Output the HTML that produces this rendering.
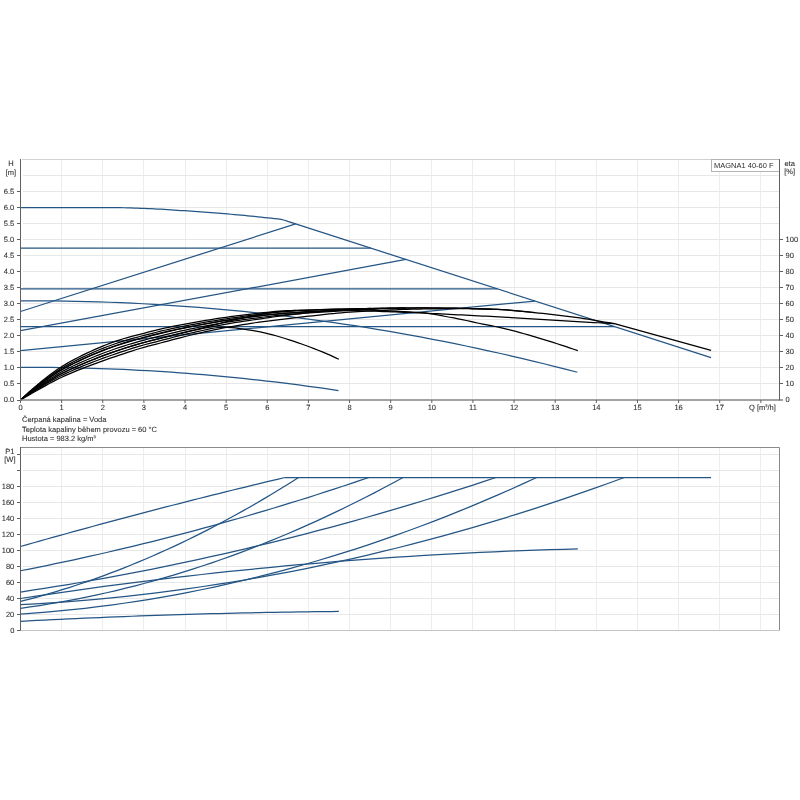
<!DOCTYPE html>
<html><head><meta charset="utf-8"><title>MAGNA1 40-60 F</title>
<style>html,body{margin:0;padding:0;background:#fff;overflow:hidden;}svg{display:block;will-change:transform;}</style>
</head><body>
<svg width="800" height="800" viewBox="0 0 800 800">
<rect width="800" height="800" fill="#fff"/>
<g stroke="#ededed" stroke-width="1" fill="none" shape-rendering="crispEdges">
<line x1="61.63" y1="160" x2="61.63" y2="399"/>
<line x1="102.76" y1="160" x2="102.76" y2="399"/>
<line x1="143.89" y1="160" x2="143.89" y2="399"/>
<line x1="185.02" y1="160" x2="185.02" y2="399"/>
<line x1="226.15" y1="160" x2="226.15" y2="399"/>
<line x1="267.28" y1="160" x2="267.28" y2="399"/>
<line x1="308.41" y1="160" x2="308.41" y2="399"/>
<line x1="349.54" y1="160" x2="349.54" y2="399"/>
<line x1="390.67" y1="160" x2="390.67" y2="399"/>
<line x1="431.8" y1="160" x2="431.8" y2="399"/>
<line x1="472.93" y1="160" x2="472.93" y2="399"/>
<line x1="514.06" y1="160" x2="514.06" y2="399"/>
<line x1="555.19" y1="160" x2="555.19" y2="399"/>
<line x1="596.32" y1="160" x2="596.32" y2="399"/>
<line x1="637.45" y1="160" x2="637.45" y2="399"/>
<line x1="678.58" y1="160" x2="678.58" y2="399"/>
<line x1="719.71" y1="160" x2="719.71" y2="399"/>
<line x1="760.84" y1="160" x2="760.84" y2="399"/>
<line x1="61.63" y1="448" x2="61.63" y2="630"/>
<line x1="102.76" y1="448" x2="102.76" y2="630"/>
<line x1="143.89" y1="448" x2="143.89" y2="630"/>
<line x1="185.02" y1="448" x2="185.02" y2="630"/>
<line x1="226.15" y1="448" x2="226.15" y2="630"/>
<line x1="267.28" y1="448" x2="267.28" y2="630"/>
<line x1="308.41" y1="448" x2="308.41" y2="630"/>
<line x1="349.54" y1="448" x2="349.54" y2="630"/>
<line x1="390.67" y1="448" x2="390.67" y2="630"/>
<line x1="431.8" y1="448" x2="431.8" y2="630"/>
<line x1="472.93" y1="448" x2="472.93" y2="630"/>
<line x1="514.06" y1="448" x2="514.06" y2="630"/>
<line x1="555.19" y1="448" x2="555.19" y2="630"/>
<line x1="596.32" y1="448" x2="596.32" y2="630"/>
<line x1="637.45" y1="448" x2="637.45" y2="630"/>
<line x1="678.58" y1="448" x2="678.58" y2="630"/>
<line x1="719.71" y1="448" x2="719.71" y2="630"/>
<line x1="760.84" y1="448" x2="760.84" y2="630"/>
</g>
<g stroke="#e7e7e7" stroke-width="1" fill="none" shape-rendering="crispEdges">
<line x1="23" y1="383.96" x2="779.0" y2="383.96"/>
<line x1="23" y1="367.93" x2="779.0" y2="367.93"/>
<line x1="23" y1="351.89" x2="779.0" y2="351.89"/>
<line x1="23" y1="335.86" x2="779.0" y2="335.86"/>
<line x1="23" y1="319.82" x2="779.0" y2="319.82"/>
<line x1="23" y1="303.79" x2="779.0" y2="303.79"/>
<line x1="23" y1="287.75" x2="779.0" y2="287.75"/>
<line x1="23" y1="271.72" x2="779.0" y2="271.72"/>
<line x1="23" y1="255.69" x2="779.0" y2="255.69"/>
<line x1="23" y1="239.65" x2="779.0" y2="239.65"/>
<line x1="23" y1="223.62" x2="779.0" y2="223.62"/>
<line x1="23" y1="207.58" x2="779.0" y2="207.58"/>
<line x1="23" y1="191.54" x2="779.0" y2="191.54"/>
<line x1="23" y1="175.51" x2="779.0" y2="175.51"/>
<line x1="23" y1="614.5" x2="779.0" y2="614.5"/>
<line x1="23" y1="598.5" x2="779.0" y2="598.5"/>
<line x1="23" y1="582.5" x2="779.0" y2="582.5"/>
<line x1="23" y1="566.5" x2="779.0" y2="566.5"/>
<line x1="23" y1="550.5" x2="779.0" y2="550.5"/>
<line x1="23" y1="534.5" x2="779.0" y2="534.5"/>
<line x1="23" y1="518.5" x2="779.0" y2="518.5"/>
<line x1="23" y1="502.5" x2="779.0" y2="502.5"/>
<line x1="23" y1="486.5" x2="779.0" y2="486.5"/>
<line x1="23" y1="470.5" x2="779.0" y2="470.5"/>
<line x1="23" y1="454.5" x2="779.0" y2="454.5"/>
</g>
<line x1="22" y1="159.5" x2="779.5" y2="159.5" stroke="#d2d2d2" stroke-width="1"/>
<line x1="20" y1="447.5" x2="779.5" y2="447.5" stroke="#8a8a8a" stroke-width="1"/>
<line x1="779.5" y1="447.5" x2="779.5" y2="630.5" stroke="#8a8a8a" stroke-width="1"/>
<line x1="20" y1="630.5" x2="779.5" y2="630.5" stroke="#c4c4c4" stroke-width="1"/>
<path d="M20.5 207.58 L23.84 207.58 L27.18 207.58 L30.53 207.58 L33.87 207.58 L37.21 207.58 L40.55 207.58 L43.89 207.58 L47.23 207.58 L50.58 207.58 L53.92 207.58 L57.26 207.58 L60.6 207.58 L63.94 207.58 L67.29 207.58 L70.63 207.58 L73.97 207.58 L77.31 207.58 L80.65 207.58 L83.99 207.58 L87.34 207.58 L90.68 207.58 L94.02 207.58 L97.36 207.58 L100.7 207.58 L104.05 207.58 L107.39 207.59 L110.73 207.61 L114.07 207.63 L117.41 207.66 L120.75 207.69 L124.1 207.75 L127.44 207.82 L130.78 207.92 L134.12 208.03 L137.46 208.14 L140.81 208.27 L144.15 208.39 L147.49 208.53 L150.83 208.68 L154.17 208.85 L157.51 209.03 L160.86 209.22 L164.2 209.42 L167.54 209.63 L170.88 209.85 L174.22 210.07 L177.57 210.29 L180.91 210.52 L184.25 210.74 L187.59 210.96 L190.93 211.18 L194.27 211.41 L197.62 211.64 L200.96 211.88 L204.3 212.12 L207.64 212.37 L210.98 212.62 L214.33 212.88 L217.67 213.14 L221.01 213.41 L224.35 213.68 L227.69 213.96 L231.03 214.25 L234.38 214.55 L237.72 214.85 L241.06 215.16 L244.4 215.48 L247.74 215.8 L251.09 216.14 L254.43 216.47 L257.77 216.82 L261.11 217.17 L264.45 217.53 L267.79 217.9 L271.14 218.24 L274.48 218.58 L277.82 218.97 L281.16 219.46 L284.5 220.24 L287.85 221.42 L711.07 357.71" fill="none" stroke="#245584" stroke-width="1.25" stroke-linejoin="round" />
<path d="M20.5 248.15 L370.85 248.15" fill="none" stroke="#245584" stroke-width="1.25" stroke-linejoin="round" />
<path d="M20.5 288.88 L497.33 288.88" fill="none" stroke="#245584" stroke-width="1.25" stroke-linejoin="round" />
<path d="M20.5 326.66 L614.64 326.66" fill="none" stroke="#245584" stroke-width="1.25" stroke-linejoin="round" />
<path d="M20.5 311.49 L295.66 223.94" fill="none" stroke="#245584" stroke-width="1.25" stroke-linejoin="round" />
<path d="M20.5 330.73 L405.89 259.43" fill="none" stroke="#245584" stroke-width="1.25" stroke-linejoin="round" />
<path d="M20.5 350.61 L535.04 301.02" fill="none" stroke="#245584" stroke-width="1.25" stroke-linejoin="round" />
<path d="M20.5 300.9 L31.64 300.86 L42.78 300.88 L53.91 300.96 L65.05 301.1 L76.19 301.3 L87.33 301.56 L98.47 301.87 L109.6 302.25 L120.74 302.69 L131.88 303.19 L143.02 303.75 L154.16 304.36 L165.29 305.04 L176.43 305.78 L187.57 306.58 L198.71 307.43 L209.85 308.35 L220.98 309.33 L232.12 310.37 L243.26 311.46 L254.4 312.62 L265.54 313.84 L276.67 315.12 L287.81 316.45 L298.95 317.85 L310.09 319.31 L321.23 320.82 L332.36 322.4 L343.5 324.04 L354.64 325.73 L365.78 327.49 L376.92 329.31 L388.05 331.18 L399.19 333.12 L410.33 335.11 L421.47 337.17 L432.61 339.29 L443.74 341.46 L454.88 343.7 L466.02 345.99 L477.16 348.35 L488.3 350.77 L499.43 353.24 L510.57 355.78 L521.71 358.37 L532.85 361.03 L543.99 363.74 L555.12 366.52 L566.26 369.35 L577.4 372.25" fill="none" stroke="#245584" stroke-width="1.25" stroke-linejoin="round" />
<path d="M20.5 367.29 L28.45 367.27 L36.4 367.29 L44.35 367.34 L52.29 367.42 L60.24 367.52 L68.19 367.66 L76.14 367.83 L84.09 368.03 L92.04 368.26 L99.98 368.52 L107.93 368.81 L115.88 369.14 L123.83 369.49 L131.78 369.87 L139.73 370.28 L147.67 370.73 L155.62 371.2 L163.57 371.71 L171.52 372.24 L179.47 372.81 L187.42 373.41 L195.36 374.03 L203.31 374.69 L211.26 375.38 L219.21 376.1 L227.16 376.85 L235.11 377.63 L243.05 378.44 L251 379.28 L258.95 380.15 L266.9 381.05 L274.85 381.98 L282.8 382.94 L290.74 383.94 L298.69 384.96 L306.64 386.01 L314.59 387.1 L322.54 388.21 L330.49 389.36 L338.43 390.54" fill="none" stroke="#245584" stroke-width="1.25" stroke-linejoin="round" />
<path d="M20.5 400 L24.61 396.08 L28.73 392.29 L32.84 388.63 L36.95 385.1 L41.06 381.72 L45.18 378.45 L49.29 375.27 L53.4 372.22 L57.52 369.33 L61.63 366.65 L65.74 364.16 L69.86 361.82 L73.97 359.6 L78.08 357.48 L82.2 355.42 L86.31 353.42 L90.42 351.47 L94.53 349.6 L98.65 347.82 L102.76 346.12 L106.87 344.5 L110.99 342.94 L115.1 341.45 L119.21 340.05 L123.33 338.75 L127.44 337.56 L131.55 336.46 L135.66 335.41 L139.78 334.36 L143.89 333.29 L148 332.22 L152.12 331.16 L156.23 330.12 L160.34 329.12 L164.46 328.16 L168.57 327.27 L172.68 326.41 L176.79 325.59 L180.91 324.8 L185.02 324.03 L189.13 323.29 L193.25 322.56 L197.36 321.85 L201.47 321.15 L205.59 320.47 L209.7 319.79 L213.81 319.12 L217.92 318.47 L222.04 317.85 L226.15 317.26 L230.26 316.69 L234.38 316.14 L238.49 315.61 L242.6 315.09 L246.72 314.59 L250.83 314.1 L254.94 313.63 L259.05 313.18 L263.17 312.73 L267.28 312.29 L271.39 311.86 L275.51 311.49 L279.62 311.19 L283.73 310.96 L287.85 310.74 L291.96 310.55 L296.07 310.37 L300.18 310.21 L304.3 310.06 L308.41 309.92 L312.52 309.78 L316.64 309.66 L320.75 309.54 L324.86 309.43 L328.98 309.33 L333.09 309.24 L337.2 309.15 L341.31 309.05 L345.43 308.96 L349.54 308.86 L353.65 308.77 L357.77 308.68 L361.88 308.59 L365.99 308.5 L370.11 308.42 L374.22 308.35 L378.33 308.28 L382.44 308.22 L386.56 308.15 L390.67 308.08 L394.78 308.02 L398.9 307.96 L403.01 307.91 L407.12 307.86 L411.24 307.83 L415.35 307.81 L419.46 307.8 L423.57 307.81 L427.69 307.83 L431.8 307.86 L435.91 307.9 L440.03 307.95 L444.14 308.01 L448.25 308.07 L452.37 308.14 L456.48 308.21 L460.59 308.28 L464.7 308.36 L468.82 308.45 L472.93 308.55 L477.04 308.67 L481.16 308.79 L485.27 308.94 L489.38 309.09 L493.5 309.26 L497.61 309.45 L501.72 309.65 L505.83 309.92 L509.95 310.24 L514.06 310.6 L518.17 310.98 L522.29 311.35 L526.4 311.74 L530.51 312.15 L534.62 312.57 L538.74 313.01 L542.85 313.46 L546.96 313.92 L551.08 314.39 L555.19 314.86 L559.3 315.34 L563.42 315.81 L567.53 316.3 L571.64 316.8 L575.75 317.33 L579.87 317.9 L583.98 318.53 L588.09 319.21 L592.21 319.92 L596.32 320.64 L600.43 321.34 L604.55 322.02 L608.66 322.71 L612.77 323.4 L614.42 323.67 L711.07 350.29" fill="none" stroke="#000" stroke-width="1.25" stroke-linejoin="round" />
<path d="M20.5 400 L24.62 396.3 L28.74 392.72 L32.85 389.26 L36.97 385.92 L41.09 382.7 L45.21 379.55 L49.32 376.52 L53.44 373.63 L57.56 370.86 L61.68 368.26 L65.8 365.86 L69.91 363.62 L74.03 361.46 L78.15 359.41 L82.27 357.43 L86.39 355.48 L90.5 353.59 L94.62 351.78 L98.74 350.04 L102.86 348.37 L106.97 346.77 L111.09 345.23 L115.21 343.76 L119.33 342.36 L123.45 341.05 L127.56 339.84 L131.68 338.7 L135.8 337.58 L139.92 336.5 L144.04 335.43 L148.15 334.35 L152.27 333.28 L156.39 332.25 L160.51 331.23 L164.62 330.26 L168.74 329.33 L172.86 328.44 L176.98 327.57 L181.1 326.74 L185.21 325.93 L189.33 325.14 L193.45 324.38 L197.57 323.62 L201.68 322.89 L205.8 322.17 L209.92 321.46 L214.04 320.76 L218.16 320.09 L222.27 319.44 L226.39 318.81 L230.51 318.21 L234.63 317.62 L238.75 317.04 L242.86 316.48 L246.98 315.93 L251.1 315.39 L255.22 314.85 L259.33 314.31 L263.45 313.78 L267.57 313.28 L271.69 312.83 L275.81 312.45 L279.92 312.09 L284.04 311.77 L288.16 311.47 L292.28 311.19 L296.4 310.94 L300.51 310.7 L304.63 310.49 L308.75 310.28 L312.87 310.09 L316.98 309.91 L321.1 309.75 L325.22 309.6 L329.34 309.47 L333.46 309.34 L337.57 309.22 L341.69 309.11 L345.81 309 L349.93 308.89 L354.04 308.79 L358.16 308.69 L362.28 308.6 L366.4 308.51 L370.52 308.41" fill="none" stroke="#000" stroke-width="1.25" stroke-linejoin="round" />
<path d="M20.5 400 L24.64 396.48 L28.78 393.06 L32.92 389.76 L37.07 386.57 L41.21 383.47 L45.35 380.45 L49.49 377.53 L53.63 374.74 L57.77 372.06 L61.92 369.55 L66.06 367.24 L70.2 365.06 L74.34 362.97 L78.48 360.97 L82.62 359.04 L86.77 357.14 L90.91 355.3 L95.05 353.53 L99.19 351.82 L103.33 350.18 L107.47 348.59 L111.62 347.07 L115.76 345.62 L119.9 344.22 L124.04 342.9 L128.18 341.66 L132.32 340.49 L136.47 339.34 L140.61 338.23 L144.75 337.13 L148.89 336.04 L153.03 334.97 L157.17 333.93 L161.31 332.91 L165.46 331.93 L169.6 330.97 L173.74 330.04 L177.88 329.14 L182.02 328.27 L186.16 327.43 L190.31 326.6 L194.45 325.8 L198.59 325.01 L202.73 324.24 L206.87 323.49 L211.01 322.75 L215.16 322.02 L219.3 321.33 L223.44 320.66 L227.58 320.02 L231.72 319.4 L235.86 318.81 L240.01 318.23 L244.15 317.67 L248.29 317.12 L252.43 316.6 L256.57 316.09 L260.71 315.58 L264.86 315.09 L269 314.67 L273.14 314.28 L277.28 313.9 L281.42 313.54 L285.56 313.2 L289.7 312.87 L293.85 312.56 L297.99 312.26 L302.13 311.99 L306.27 311.72 L310.41 311.47 L314.55 311.23 L318.7 311 L322.84 310.78 L326.98 310.57 L331.12 310.37 L335.26 310.18 L339.4 310 L343.55 309.83 L347.69 309.68 L351.83 309.52 L355.97 309.38 L360.11 309.24 L364.25 309.11 L368.4 308.98 L372.54 308.87 L376.68 308.76 L380.82 308.66 L384.96 308.57 L389.1 308.47 L393.25 308.37 L397.39 308.28 L401.53 308.19 L405.67 308.12 L409.81 308.05 L413.95 308.01 L418.09 307.98 L422.24 307.98 L426.38 307.99 L430.52 308.01 L434.66 308.03 L438.8 308.06 L442.94 308.1 L447.09 308.15 L451.23 308.19 L455.37 308.24 L459.51 308.29 L463.65 308.37 L467.79 308.46 L471.94 308.58 L476.08 308.71 L480.22 308.85 L484.36 309 L488.5 309.14 L492.64 309.28 L496.79 309.41" fill="none" stroke="#000" stroke-width="1.25" stroke-linejoin="round" />
<path d="M20.5 400 L24.63 396.52 L28.76 393.14 L32.88 389.88 L37.01 386.72 L41.14 383.65 L45.27 380.66 L49.4 377.76 L53.53 374.99 L57.65 372.33 L61.78 369.84 L65.91 367.54 L70.04 365.38 L74.17 363.3 L78.3 361.32 L82.42 359.39 L86.55 357.51 L90.68 355.67 L94.81 353.91 L98.94 352.21 L103.06 350.58 L107.19 349 L111.32 347.48 L115.45 346.02 L119.58 344.63 L123.71 343.3 L127.83 342.06 L131.96 340.88 L136.09 339.73 L140.22 338.62 L144.35 337.52 L148.48 336.43 L152.6 335.36 L156.73 334.32 L160.86 333.3 L164.99 332.31 L169.12 331.35 L173.24 330.41 L177.37 329.51 L181.5 328.64 L185.63 327.79 L189.76 326.95 L193.89 326.14 L198.01 325.35 L202.14 324.58 L206.27 323.82 L210.4 323.07 L214.53 322.35 L218.66 321.65 L222.78 320.97 L226.91 320.32 L231.04 319.7 L235.17 319.11 L239.3 318.52 L243.42 317.95 L247.55 317.4 L251.68 316.87 L255.81 316.36 L259.94 315.86 L264.07 315.37 L268.19 314.91 L272.32 314.47 L276.45 314.06 L280.58 313.71 L284.71 313.39 L288.84 313.1 L292.96 312.82 L297.09 312.55 L301.22 312.29 L305.35 312.05 L309.48 311.81 L313.6 311.59 L317.73 311.37 L321.86 311.15 L325.99 310.94 L330.12 310.75 L334.25 310.56 L338.37 310.39 L342.5 310.23 L346.63 310.09 L350.76 309.95 L354.89 309.81 L359.02 309.68 L363.14 309.53 L367.27 309.48 L371.4 309.63 L375.53 309.91 L379.66 310.27 L383.78 310.65 L387.91 310.99 L392.04 311.24 L396.17 311.42 L400.3 311.58 L404.43 311.72 L408.55 311.87 L412.68 312.04 L416.81 312.26 L420.94 312.53 L425.07 312.95 L429.2 313.51 L433.32 314.18 L437.45 314.93 L441.58 315.71 L445.71 316.5 L449.84 317.25 L453.96 317.99 L458.09 318.77 L462.22 319.6 L466.35 320.5 L470.48 321.42 L474.61 322.36 L478.73 323.26 L482.86 324.11 L486.99 324.91 L491.12 325.7 L495.25 326.51 L499.38 327.37 L503.5 328.3 L507.63 329.3 L511.76 330.34 L515.89 331.43 L520.02 332.56 L524.14 333.74 L528.27 334.94 L532.4 336.16 L536.53 337.39 L540.66 338.62 L544.79 339.87 L548.91 341.14 L553.04 342.43 L557.17 343.74 L561.3 345.08 L565.43 346.46 L569.56 347.84 L573.68 349.23 L577.81 350.61" fill="none" stroke="#000" stroke-width="1.25" stroke-linejoin="round" />
<path d="M20.5 400 L24.62 396.79 L28.75 393.66 L32.87 390.63 L37 387.69 L41.12 384.82 L45.25 382.01 L49.37 379.28 L53.5 376.66 L57.62 374.14 L61.74 371.77 L65.87 369.58 L69.99 367.52 L74.12 365.53 L78.24 363.64 L82.37 361.79 L86.49 359.98 L90.62 358.21 L94.74 356.51 L98.86 354.86 L102.99 353.26 L107.11 351.72 L111.24 350.22 L115.36 348.78 L119.49 347.38 L123.61 346.04 L127.74 344.76 L131.86 343.53 L135.98 342.34 L140.11 341.19 L144.23 340.07 L148.36 338.98 L152.48 337.91 L156.61 336.86 L160.73 335.84 L164.85 334.82 L168.98 333.82 L173.1 332.84 L177.23 331.89 L181.35 330.96 L185.48 330.06 L189.6 329.18 L193.73 328.32 L197.85 327.49 L201.97 326.67 L206.1 325.87 L210.22 325.08 L214.35 324.32 L218.47 323.59 L222.6 322.88 L226.72 322.2 L230.85 321.54 L234.97 320.92 L239.09 320.3 L243.22 319.71 L247.34 319.13 L251.47 318.57 L255.59 318.03 L259.72 317.51 L263.84 317 L267.97 316.51 L272.09 316.05 L276.21 315.61 L280.34 315.22 L284.46 314.86 L288.59 314.52 L292.71 314.18 L296.84 313.86 L300.96 313.55 L305.09 313.25 L309.21 312.96 L313.33 312.67 L317.46 312.4 L321.58 312.12 L325.71 311.85 L329.83 311.6 L333.96 311.36 L338.08 311.14 L342.21 310.92 L346.33 310.71 L350.45 310.64 L354.58 310.67 L358.7 310.74 L362.83 310.83 L366.95 310.95 L371.08 311.09 L375.2 311.24 L379.32 311.39 L383.45 311.55 L387.57 311.7 L391.7 311.84 L395.82 311.98 L399.95 312.13 L404.07 312.29 L408.2 312.45 L412.32 312.61 L416.44 312.78 L420.57 312.96 L424.69 313.14 L428.82 313.33 L432.94 313.53 L437.07 313.73 L441.19 313.94 L445.32 314.15 L449.44 314.35 L453.56 314.55 L457.69 314.76 L461.81 314.97 L465.94 315.17 L470.06 315.38 L474.19 315.59 L478.31 315.8 L482.44 316.01 L486.56 316.22 L490.68 316.44 L494.81 316.66 L498.93 316.88 L503.06 317.1 L507.18 317.32 L511.31 317.55 L515.43 317.79 L519.56 318.02 L523.68 318.26 L527.8 318.51 L531.93 318.76 L536.05 319.01 L540.18 319.26 L544.3 319.52 L548.43 319.77 L552.55 320.03 L556.68 320.29 L560.8 320.54 L564.92 320.79 L569.05 321.04 L573.17 321.29 L577.3 321.53 L581.42 321.78 L585.55 322.03 L589.67 322.27 L593.8 322.51 L597.92 322.75 L602.04 322.99 L606.17 323.22 L610.29 323.44 L614.42 323.67" fill="none" stroke="#000" stroke-width="1.25" stroke-linejoin="round" />
<path d="M20.5 400 L24.67 397 L28.84 394.07 L33.01 391.23 L37.18 388.45 L41.35 385.74 L45.51 383.07 L49.68 380.46 L53.85 377.96 L58.02 375.55 L62.19 373.29 L66.36 371.19 L70.53 369.21 L74.7 367.3 L78.87 365.47 L83.04 363.68 L87.21 361.92 L91.37 360.21 L95.54 358.55 L99.71 356.93 L103.88 355.37 L108.05 353.84 L112.22 352.36 L116.39 350.92 L120.56 349.52 L124.73 348.17 L128.9 346.85 L133.07 345.57 L137.23 344.35 L141.4 343.16 L145.57 342.02 L149.74 340.93 L153.91 339.85 L158.08 338.79 L162.25 337.75 L166.42 336.7 L170.59 335.65 L174.76 334.63 L178.93 333.65 L183.09 332.68 L187.26 331.69 L191.43 330.68 L195.6 329.66 L199.77 328.62 L203.94 327.58 L208.11 326.5 L212.28 325.41 L216.45 324.33 L220.62 323.26 L224.79 322.23 L228.95 321.2 L233.12 320.2 L237.29 319.23 L241.46 318.3 L245.63 317.39 L249.8 316.5 L253.97 315.65 L258.14 314.86 L262.31 314.09 L266.48 313.34 L270.65 312.64 L274.81 312.04 L278.98 311.6 L283.15 311.25 L287.32 310.95 L291.49 310.68 L295.66 310.39" fill="none" stroke="#000" stroke-width="1.25" stroke-linejoin="round" />
<path d="M20.5 400 L24.64 397.03 L28.79 394.14 L32.93 391.32 L37.08 388.57 L41.22 385.89 L45.36 383.24 L49.51 380.65 L53.65 378.17 L57.8 375.78 L61.94 373.52 L66.08 371.44 L70.23 369.47 L74.37 367.57 L78.52 365.75 L82.66 363.97 L86.8 362.22 L90.95 360.52 L95.09 358.87 L99.24 357.26 L103.38 355.7 L107.52 354.18 L111.67 352.71 L115.81 351.27 L119.95 349.87 L124.1 348.52 L128.24 347.2 L132.39 345.92 L136.53 344.69 L140.67 343.51 L144.82 342.36 L148.96 341.27 L153.11 340.2 L157.25 339.14 L161.39 338.1 L165.54 337.06 L169.68 336.02 L173.83 334.99 L177.97 333.99 L182.11 333.02 L186.26 332.07 L190.4 331.14 L194.55 330.24 L198.69 329.35 L202.83 328.49 L206.98 327.65 L211.12 326.83 L215.27 326.03 L219.41 325.27 L223.55 324.53 L227.7 323.82 L231.84 323.14 L235.99 322.49 L240.13 321.85 L244.27 321.23 L248.42 320.62 L252.56 320 L256.71 319.38 L260.85 318.77 L264.99 318.16 L269.14 317.57 L273.28 317 L277.43 316.44 L281.57 315.89 L285.71 315.35 L289.86 314.83 L294 314.32 L298.15 313.84 L302.29 313.38 L306.43 312.93 L310.58 312.49 L314.72 312.07 L318.86 311.67 L323.01 311.3 L327.15 310.98 L331.3 310.67 L335.44 310.39 L339.58 310.12 L343.73 309.87 L347.87 309.64 L352.02 309.43 L356.16 309.24 L360.3 309.06 L364.45 308.89 L368.59 308.74 L372.74 308.6 L376.88 308.47 L381.02 308.36 L385.17 308.27 L389.31 308.18 L393.46 308.11 L397.6 308.03 L401.74 307.96 L405.89 307.88" fill="none" stroke="#000" stroke-width="1.25" stroke-linejoin="round" />
<path d="M20.5 400 L24.62 397.55 L28.73 395.13 L32.85 392.76 L36.97 390.43 L41.08 388.12 L45.2 385.83 L49.31 383.56 L53.43 381.37 L57.55 379.23 L61.66 377.21 L65.78 375.34 L69.9 373.56 L74.01 371.84 L78.13 370.18 L82.24 368.55 L86.36 366.95 L90.48 365.38 L94.59 363.84 L98.71 362.33 L102.83 360.85 L106.94 359.4 L111.06 357.96 L115.17 356.55 L119.29 355.17 L123.41 353.79 L127.52 352.41 L131.64 351.04 L135.76 349.73 L139.87 348.48 L143.99 347.29 L148.11 346.18 L152.22 345.11 L156.34 344.04 L160.45 342.99 L164.57 341.92 L168.69 340.81 L172.8 339.7 L176.92 338.61 L181.04 337.55 L185.15 336.51 L189.27 335.49 L193.38 334.49 L197.5 333.52 L201.62 332.58 L205.73 331.66 L209.85 330.77 L213.97 329.9 L218.08 329.07 L222.2 328.26 L226.31 327.49 L230.43 326.75 L234.55 326.04 L238.66 325.34 L242.78 324.66 L246.9 324.01 L251.01 323.37 L255.13 322.75 L259.24 322.16 L263.36 321.59 L267.48 321.05 L271.59 320.53 L275.71 320.03 L279.83 319.53 L283.94 319.03 L288.06 318.55 L292.18 318.07 L296.29 317.59 L300.41 317.12 L304.52 316.66 L308.64 316.21 L312.76 315.76 L316.87 315.31 L320.99 314.85 L325.11 314.4 L329.22 313.96 L333.34 313.54 L337.45 313.14 L341.57 312.78 L345.69 312.45 L349.8 312.16 L353.92 311.88 L358.04 311.61 L362.15 311.36 L366.27 311.13 L370.38 310.91 L374.5 310.7 L378.62 310.5 L382.73 310.32 L386.85 310.14 L390.97 309.97 L395.08 309.79 L399.2 309.63 L403.32 309.47 L407.43 309.33 L411.55 309.2 L415.66 309.1 L419.78 309.02 L423.9 308.96 L428.01 308.91 L432.13 308.86 L436.25 308.82 L440.36 308.78 L444.48 308.74 L448.59 308.72 L452.71 308.7 L456.83 308.69 L460.94 308.69 L465.06 308.71 L469.18 308.75 L473.29 308.81 L477.41 308.9 L481.52 308.99 L485.64 309.1 L489.76 309.22 L493.87 309.35 L497.99 309.49 L502.11 309.68 L506.22 309.95 L510.34 310.27 L514.45 310.64 L518.57 311.04 L522.69 311.45 L526.8 311.86 L530.92 312.25 L535.04 312.62" fill="none" stroke="#000" stroke-width="1.25" stroke-linejoin="round" />
<path d="M20.5 400 L24.63 397.28 L28.77 394.62 L32.9 392.02 L37.04 389.48 L41.17 386.98 L45.31 384.5 L49.44 382.07 L53.57 379.73 L57.71 377.46 L61.84 375.32 L65.98 373.34 L70.11 371.47 L74.25 369.65 L78.38 367.91 L82.52 366.2 L86.65 364.53 L90.78 362.89 L94.92 361.29 L99.05 359.73 L103.19 358.21 L107.32 356.72 L111.46 355.27 L115.59 353.84 L119.72 352.45 L123.86 351.08 L127.99 349.73 L132.13 348.4 L136.26 347.14 L140.4 345.92 L144.53 344.75 L148.67 343.65 L152.8 342.58 L156.93 341.52 L161.07 340.47 L165.2 339.42 L169.34 338.34 L173.47 337.26 L177.61 336.22 L181.74 335.21 L185.87 334.21 L190.01 333.24 L194.14 332.29 L198.28 331.38 L202.41 330.5 L206.55 329.59 L210.68 328.73 L214.82 328 L218.95 327.47 L223.08 327.21 L227.22 327.27 L231.35 327.54 L235.49 327.97 L239.62 328.52 L243.76 329.14 L247.89 329.77 L252.02 330.4 L256.16 331.14 L260.29 331.98 L264.43 332.9 L268.56 333.87 L272.7 334.89 L276.83 336.02 L280.97 337.24 L285.1 338.51 L289.23 339.82 L293.37 341.15 L297.5 342.55 L301.64 344 L305.77 345.49 L309.91 347.03 L314.04 348.61 L318.17 350.24 L322.31 351.92 L326.44 353.66 L330.58 355.44 L334.71 357.34 L338.85 359.27" fill="none" stroke="#000" stroke-width="1.25" stroke-linejoin="round" />
<path d="M20.5 546.5 L27.11 544.62 L33.72 542.74 L40.33 540.88 L46.95 539.02 L53.56 537.17 L60.17 535.32 L66.78 533.49 L73.39 531.66 L80 529.84 L86.62 528.03 L93.23 526.23 L99.84 524.44 L106.45 522.65 L113.06 520.88 L119.67 519.11 L126.29 517.34 L132.9 515.59 L139.51 513.85 L146.12 512.11 L152.73 510.38 L159.34 508.66 L165.96 506.95 L172.57 505.24 L179.18 503.54 L185.79 501.86 L192.4 500.18 L199.01 498.5 L205.63 496.84 L212.24 495.18 L218.85 493.53 L225.46 491.89 L232.07 490.26 L238.68 488.64 L245.3 487.02 L251.91 485.42 L258.52 483.82 L265.13 482.23 L271.74 480.64 L278.35 479.07 L284.97 477.5" fill="none" stroke="#245584" stroke-width="1.25" stroke-linejoin="round" />
<path d="M20.5 570.74 L29.21 569.04 L37.92 567.3 L46.63 565.53 L55.34 563.73 L64.05 561.9 L72.76 560.03 L81.46 558.14 L90.17 556.21 L98.88 554.24 L107.59 552.25 L116.3 550.23 L125.01 548.17 L133.72 546.08 L142.43 543.96 L151.14 541.8 L159.85 539.61 L168.56 537.4 L177.27 535.15 L185.98 532.86 L194.69 530.55 L203.39 528.2 L212.1 525.82 L220.81 523.41 L229.52 520.97 L238.23 518.49 L246.94 515.98 L255.65 513.44 L264.36 510.87 L273.07 508.27 L281.78 505.63 L290.49 502.96 L299.2 500.26 L307.91 497.53 L316.62 494.76 L325.32 491.97 L334.03 489.14 L342.74 486.28 L351.45 483.38 L360.16 480.46 L368.87 477.5" fill="none" stroke="#245584" stroke-width="1.25" stroke-linejoin="round" />
<path d="M20.5 601.46 L27.45 599.67 L34.4 597.81 L41.35 595.89 L48.3 593.9 L55.25 591.84 L62.21 589.72 L69.16 587.53 L76.11 585.27 L83.06 582.94 L90.01 580.55 L96.96 578.09 L103.91 575.56 L110.86 572.96 L117.81 570.3 L124.76 567.57 L131.72 564.77 L138.67 561.91 L145.62 558.98 L152.57 555.98 L159.52 552.92 L166.47 549.78 L173.42 546.58 L180.37 543.32 L187.32 539.98 L194.27 536.58 L201.23 533.11 L208.18 529.58 L215.13 525.97 L222.08 522.3 L229.03 518.57 L235.98 514.76 L242.93 510.89 L249.88 506.95 L256.83 502.95 L263.78 498.87 L270.73 494.73 L277.69 490.53 L284.64 486.25 L291.59 481.91 L298.54 477.5" fill="none" stroke="#245584" stroke-width="1.25" stroke-linejoin="round" />
<path d="M20.5 592.02 L32.39 590.23 L44.27 588.38 L56.16 586.47 L68.05 584.51 L79.93 582.5 L91.82 580.43 L103.71 578.31 L115.59 576.13 L127.48 573.9 L139.37 571.61 L151.25 569.27 L163.14 566.87 L175.03 564.42 L186.91 561.91 L198.8 559.35 L210.69 556.73 L222.57 554.06 L234.46 551.33 L246.34 548.55 L258.23 545.72 L270.12 542.83 L282 539.88 L293.89 536.88 L305.78 533.83 L317.66 530.72 L329.55 527.55 L341.44 524.33 L353.32 521.06 L365.21 517.73 L377.1 514.35 L388.98 510.91 L400.87 507.42 L412.76 503.87 L424.64 500.27 L436.53 496.61 L448.42 492.9 L460.3 489.13 L472.19 485.31 L484.08 481.43 L495.96 477.5" fill="none" stroke="#245584" stroke-width="1.25" stroke-linejoin="round" />
<path d="M20.5 608.26 L30.06 606.93 L39.63 605.51 L49.19 603.98 L58.75 602.36 L68.31 600.63 L77.88 598.81 L87.44 596.89 L97 594.86 L106.56 592.74 L116.13 590.52 L125.69 588.19 L135.25 585.77 L144.82 583.25 L154.38 580.63 L163.94 577.91 L173.5 575.09 L183.07 572.17 L192.63 569.15 L202.19 566.03 L211.75 562.81 L221.32 559.49 L230.88 556.07 L240.44 552.55 L250.01 548.93 L259.57 545.22 L269.13 541.4 L278.69 537.48 L288.26 533.47 L297.82 529.35 L307.38 525.14 L316.94 520.82 L326.51 516.41 L336.07 511.89 L345.63 507.28 L355.2 502.56 L364.76 497.75 L374.32 492.84 L383.88 487.82 L393.45 482.71 L403.01 477.5" fill="none" stroke="#245584" stroke-width="1.25" stroke-linejoin="round" />
<path d="M20.5 598.5 L34.43 596.38 L48.37 594.31 L62.3 592.29 L76.23 590.31 L90.16 588.37 L104.1 586.48 L118.03 584.63 L131.96 582.83 L145.9 581.08 L159.83 579.37 L173.76 577.7 L187.69 576.08 L201.63 574.5 L215.56 572.97 L229.49 571.49 L243.42 570.05 L257.36 568.65 L271.29 567.3 L285.22 565.99 L299.16 564.73 L313.09 563.52 L327.02 562.35 L340.95 561.22 L354.89 560.14 L368.82 559.1 L382.75 558.11 L396.69 557.17 L410.62 556.26 L424.55 555.41 L438.48 554.6 L452.42 553.83 L466.35 553.11 L480.28 552.43 L494.21 551.8 L508.15 551.22 L522.08 550.67 L536.01 550.18 L549.95 549.73 L563.88 549.32 L577.81 548.96" fill="none" stroke="#245584" stroke-width="1.25" stroke-linejoin="round" />
<path d="M20.5 604.74 L35.59 603.9 L50.69 602.94 L65.78 601.86 L80.88 600.67 L95.97 599.35 L111.07 597.91 L126.16 596.35 L141.26 594.67 L156.35 592.87 L171.45 590.95 L186.54 588.91 L201.64 586.75 L216.73 584.47 L231.83 582.07 L246.92 579.55 L262.02 576.91 L277.11 574.15 L292.2 571.27 L307.3 568.27 L322.39 565.15 L337.49 561.91 L352.58 558.55 L367.68 555.06 L382.77 551.46 L397.87 547.74 L412.96 543.9 L428.06 539.94 L443.15 535.86 L458.25 531.65 L473.34 527.33 L488.44 522.89 L503.53 518.33 L518.63 513.64 L533.72 508.84 L548.81 503.92 L563.91 498.87 L579 493.71 L594.1 488.43 L609.19 483.02 L624.29 477.5" fill="none" stroke="#245584" stroke-width="1.25" stroke-linejoin="round" />
<path d="M20.5 614.02 L33.4 613.13 L46.31 612.1 L59.21 610.95 L72.12 609.67 L85.02 608.26 L97.93 606.72 L110.83 605.05 L123.74 603.25 L136.64 601.32 L149.55 599.26 L162.45 597.08 L175.35 594.76 L188.26 592.32 L201.16 589.74 L214.07 587.04 L226.97 584.21 L239.88 581.25 L252.78 578.16 L265.69 574.94 L278.59 571.59 L291.5 568.11 L304.4 564.51 L317.3 560.77 L330.21 556.91 L343.11 552.91 L356.02 548.79 L368.92 544.54 L381.83 540.15 L394.73 535.64 L407.64 531 L420.54 526.23 L433.45 521.34 L446.35 516.31 L459.25 511.15 L472.16 505.87 L485.06 500.45 L497.97 494.91 L510.87 489.23 L523.78 483.43 L536.68 477.5" fill="none" stroke="#245584" stroke-width="1.25" stroke-linejoin="round" />
<path d="M20.5 621.3 L28.46 620.88 L36.42 620.47 L44.38 620.07 L52.33 619.68 L60.29 619.3 L68.25 618.92 L76.21 618.56 L84.17 618.2 L92.13 617.86 L100.09 617.52 L108.05 617.19 L116 616.87 L123.96 616.56 L131.92 616.25 L139.88 615.96 L147.84 615.67 L155.8 615.4 L163.76 615.13 L171.71 614.87 L179.67 614.62 L187.63 614.38 L195.59 614.15 L203.55 613.93 L211.51 613.71 L219.47 613.51 L227.43 613.31 L235.38 613.12 L243.34 612.94 L251.3 612.77 L259.26 612.61 L267.22 612.46 L275.18 612.32 L283.14 612.18 L291.09 612.06 L299.05 611.94 L307.01 611.83 L314.97 611.73 L322.93 611.64 L330.89 611.56 L338.85 611.49" fill="none" stroke="#245584" stroke-width="1.25" stroke-linejoin="round" />
<path d="M284.97 477.5 L711.07 477.5" fill="none" stroke="#245584" stroke-width="1.25" stroke-linejoin="round" />
<rect x="711.5" y="159.5" width="68" height="12" fill="#fff" stroke="#b4b4b4" stroke-width="1"/>
<text x="714" y="167.9" font-family="'Liberation Sans', Arial, sans-serif" font-size="7.5" fill="#2e2e2e">MAGNA1 40-60 F</text>
<g stroke="#606060" stroke-width="1" fill="none">
<line x1="20.5" y1="159" x2="20.5" y2="403"/>
</g>
<line x1="20" y1="400" x2="783.0" y2="400" stroke="#858585" stroke-width="1.4"/>
<g stroke="#606060" stroke-width="1" fill="none">
<line x1="17" y1="400.5" x2="20.5" y2="400.5"/>
<line x1="17" y1="383.5" x2="20.5" y2="383.5"/>
<line x1="17" y1="367.5" x2="20.5" y2="367.5"/>
<line x1="17" y1="351.5" x2="20.5" y2="351.5"/>
<line x1="17" y1="335.5" x2="20.5" y2="335.5"/>
<line x1="17" y1="319.5" x2="20.5" y2="319.5"/>
<line x1="17" y1="303.5" x2="20.5" y2="303.5"/>
<line x1="17" y1="287.5" x2="20.5" y2="287.5"/>
<line x1="17" y1="271.5" x2="20.5" y2="271.5"/>
<line x1="17" y1="255.5" x2="20.5" y2="255.5"/>
<line x1="17" y1="239.5" x2="20.5" y2="239.5"/>
<line x1="17" y1="223.5" x2="20.5" y2="223.5"/>
<line x1="17" y1="207.5" x2="20.5" y2="207.5"/>
<line x1="17" y1="191.5" x2="20.5" y2="191.5"/>
<line x1="61.63" y1="400" x2="61.63" y2="403"/>
<line x1="102.76" y1="400" x2="102.76" y2="403"/>
<line x1="143.89" y1="400" x2="143.89" y2="403"/>
<line x1="185.02" y1="400" x2="185.02" y2="403"/>
<line x1="226.15" y1="400" x2="226.15" y2="403"/>
<line x1="267.28" y1="400" x2="267.28" y2="403"/>
<line x1="308.41" y1="400" x2="308.41" y2="403"/>
<line x1="349.54" y1="400" x2="349.54" y2="403"/>
<line x1="390.67" y1="400" x2="390.67" y2="403"/>
<line x1="431.8" y1="400" x2="431.8" y2="403"/>
<line x1="472.93" y1="400" x2="472.93" y2="403"/>
<line x1="514.06" y1="400" x2="514.06" y2="403"/>
<line x1="555.19" y1="400" x2="555.19" y2="403"/>
<line x1="596.32" y1="400" x2="596.32" y2="403"/>
<line x1="637.45" y1="400" x2="637.45" y2="403"/>
<line x1="678.58" y1="400" x2="678.58" y2="403"/>
<line x1="719.71" y1="400" x2="719.71" y2="403"/>
<line x1="760.84" y1="400" x2="760.84" y2="403"/>
<line x1="779.5" y1="159" x2="779.5" y2="400.5"/>
<line x1="779.5" y1="383.5" x2="783.0" y2="383.5"/>
<line x1="779.5" y1="367.5" x2="783.0" y2="367.5"/>
<line x1="779.5" y1="351.5" x2="783.0" y2="351.5"/>
<line x1="779.5" y1="335.5" x2="783.0" y2="335.5"/>
<line x1="779.5" y1="319.5" x2="783.0" y2="319.5"/>
<line x1="779.5" y1="303.5" x2="783.0" y2="303.5"/>
<line x1="779.5" y1="287.5" x2="783.0" y2="287.5"/>
<line x1="779.5" y1="271.5" x2="783.0" y2="271.5"/>
<line x1="779.5" y1="255.5" x2="783.0" y2="255.5"/>
<line x1="779.5" y1="239.5" x2="783.0" y2="239.5"/>
<line x1="20.5" y1="447" x2="20.5" y2="630.5"/>
<line x1="17" y1="630.5" x2="20.5" y2="630.5"/>
<line x1="17" y1="614.5" x2="20.5" y2="614.5"/>
<line x1="17" y1="598.5" x2="20.5" y2="598.5"/>
<line x1="17" y1="582.5" x2="20.5" y2="582.5"/>
<line x1="17" y1="566.5" x2="20.5" y2="566.5"/>
<line x1="17" y1="550.5" x2="20.5" y2="550.5"/>
<line x1="17" y1="534.5" x2="20.5" y2="534.5"/>
<line x1="17" y1="518.5" x2="20.5" y2="518.5"/>
<line x1="17" y1="502.5" x2="20.5" y2="502.5"/>
<line x1="17" y1="486.5" x2="20.5" y2="486.5"/>
<line x1="17" y1="470.5" x2="20.5" y2="470.5"/>
<line x1="17" y1="454.5" x2="20.5" y2="454.5"/>
</g>
<g font-family="'Liberation Sans', Arial, sans-serif" font-size="7.5" fill="#2e2e2e" stroke="#2e2e2e" stroke-width="0.08" text-rendering="geometricPrecision">
<text x="14.3" y="402.1" text-anchor="end">0.0</text>
<text x="14.3" y="386.06" text-anchor="end">0.5</text>
<text x="14.3" y="370.03" text-anchor="end">1.0</text>
<text x="14.3" y="354" text-anchor="end">1.5</text>
<text x="14.3" y="337.96" text-anchor="end">2.0</text>
<text x="14.3" y="321.93" text-anchor="end">2.5</text>
<text x="14.3" y="305.89" text-anchor="end">3.0</text>
<text x="14.3" y="289.86" text-anchor="end">3.5</text>
<text x="14.3" y="273.82" text-anchor="end">4.0</text>
<text x="14.3" y="257.79" text-anchor="end">4.5</text>
<text x="14.3" y="241.75" text-anchor="end">5.0</text>
<text x="14.3" y="225.72" text-anchor="end">5.5</text>
<text x="14.3" y="209.68" text-anchor="end">6.0</text>
<text x="14.3" y="193.64" text-anchor="end">6.5</text>
<text x="11" y="165.5" text-anchor="middle">H</text>
<text x="11" y="174.5" text-anchor="middle">[m]</text>
<text x="20.5" y="409.8" text-anchor="middle">0</text>
<text x="61.63" y="409.8" text-anchor="middle">1</text>
<text x="102.76" y="409.8" text-anchor="middle">2</text>
<text x="143.89" y="409.8" text-anchor="middle">3</text>
<text x="185.02" y="409.8" text-anchor="middle">4</text>
<text x="226.15" y="409.8" text-anchor="middle">5</text>
<text x="267.28" y="409.8" text-anchor="middle">6</text>
<text x="308.41" y="409.8" text-anchor="middle">7</text>
<text x="349.54" y="409.8" text-anchor="middle">8</text>
<text x="390.67" y="409.8" text-anchor="middle">9</text>
<text x="431.8" y="409.8" text-anchor="middle">10</text>
<text x="472.93" y="409.8" text-anchor="middle">11</text>
<text x="514.06" y="409.8" text-anchor="middle">12</text>
<text x="555.19" y="409.8" text-anchor="middle">13</text>
<text x="596.32" y="409.8" text-anchor="middle">14</text>
<text x="637.45" y="409.8" text-anchor="middle">15</text>
<text x="678.58" y="409.8" text-anchor="middle">16</text>
<text x="719.71" y="409.8" text-anchor="middle">17</text>
<text x="762.44" y="409.8" text-anchor="middle">Q [m<tspan font-size="6.6" dy="-1.2">³</tspan><tspan dy="1.2">/h]</tspan></text>
<text x="785.6" y="402.1">0</text>
<text x="785.6" y="386.04">10</text>
<text x="785.6" y="369.98">20</text>
<text x="785.6" y="353.92">30</text>
<text x="785.6" y="337.86">40</text>
<text x="785.6" y="321.8">50</text>
<text x="785.6" y="305.74">60</text>
<text x="785.6" y="289.68">70</text>
<text x="785.6" y="273.62">80</text>
<text x="785.6" y="257.56">90</text>
<text x="785.6" y="241.5">100</text>
<text x="789.7" y="166" text-anchor="middle">eta</text>
<text x="789.7" y="174.2" text-anchor="middle">[%]</text>
<text x="14.3" y="632.6" text-anchor="end">0</text>
<text x="14.3" y="616.6" text-anchor="end">20</text>
<text x="14.3" y="600.6" text-anchor="end">40</text>
<text x="14.3" y="584.6" text-anchor="end">60</text>
<text x="14.3" y="568.6" text-anchor="end">80</text>
<text x="14.3" y="552.6" text-anchor="end">100</text>
<text x="14.3" y="536.6" text-anchor="end">120</text>
<text x="14.3" y="520.6" text-anchor="end">140</text>
<text x="14.3" y="504.6" text-anchor="end">160</text>
<text x="14.3" y="488.6" text-anchor="end">180</text>
<text x="9.9" y="453.7" text-anchor="middle">P1</text>
<text x="9.9" y="462.3" text-anchor="middle">[W]</text>
<text x="22" y="421.7">Čerpaná kapalina = Voda</text>
<text x="22" y="431.6">Teplota kapaliny během provozu = 60 °C</text>
<text x="22" y="440.8">Hustota = 983.2 kg/m<tspan font-size="6.6" dy="-1.2">³</tspan></text>
</g>
</svg>
</body></html>
